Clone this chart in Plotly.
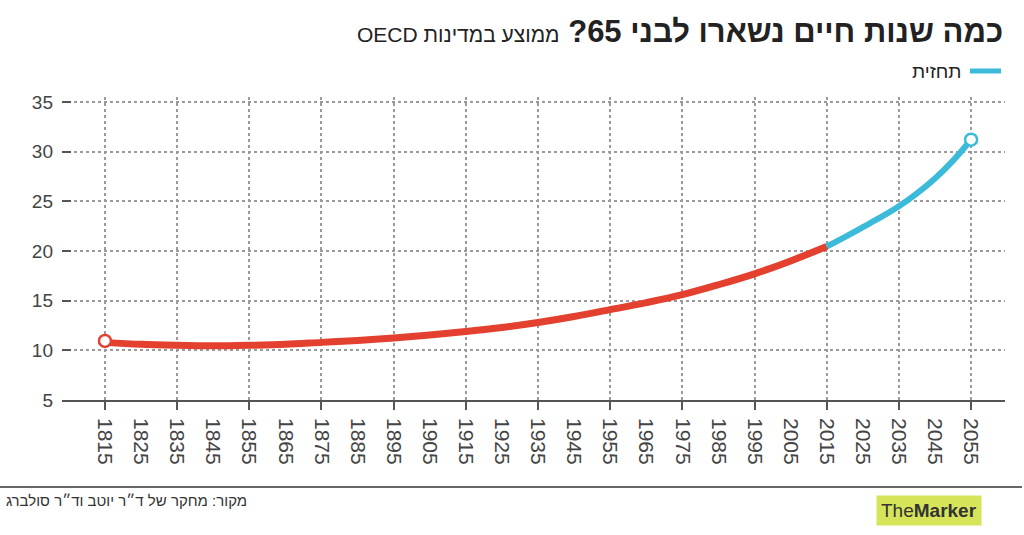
import plotly.graph_objects as go

# ---- data ----
hist_years = [1815, 1825, 1835, 1845, 1855, 1865, 1875, 1885, 1895, 1905, 1915,
              1925, 1935, 1945, 1955, 1965, 1975, 1985, 1995, 2005, 2015]
hist_values = [10.8, 10.6, 10.5, 10.45, 10.5, 10.6, 10.8, 11.0, 11.25, 11.55, 11.9,
               12.3, 12.8, 13.4, 14.1, 14.8, 15.6, 16.6, 17.7, 19.0, 20.45]
fc_years = [2015, 2020, 2025, 2030, 2035, 2040, 2045, 2050, 2055]
fc_values = [20.45, 21.4, 22.4, 23.4, 24.5, 25.8, 27.3, 29.1, 31.2]
start_point = (1815, 10.95)
label_years = list(range(1815, 2056, 10))
grid_years = list(range(1815, 2056, 20))
y_ticks = [5, 10, 15, 20, 25, 30, 35]

title_bold = "כמה שנות חיים נשארו לבני 65?"
title_rest = "ממוצע במדינות OECD"
legend_text = "תחזית"
source_text = "מקור: מחקר של ד״ר יוטב וד״ר סולברג"

RED = "#e3402f"
CYAN = "#3bbbd9"
GRID = "#9a9a9a"
DARK = "#444444"

W, H = 1024, 535
ml, mr, mt, mb = 62, 19, 97, 135
pw, ph = W - ml - mr, H - mt - mb


def px(xp):
    return (xp - ml) / pw


def py(yp):
    return (H - mb - yp) / ph


fig = go.Figure()
fig.add_trace(go.Scatter(x=hist_years, y=hist_values, mode="lines",
                         line=dict(color=RED, width=7, shape="spline"),
                         hoverinfo="skip", showlegend=False))
fig.add_trace(go.Scatter(x=fc_years, y=fc_values, mode="lines",
                         line=dict(color=CYAN, width=6, shape="spline"),
                         hoverinfo="skip", showlegend=False))
fig.add_trace(go.Scatter(x=[start_point[0]], y=[start_point[1]], mode="markers",
                         marker=dict(size=12, color="white", line=dict(color=RED, width=2.5)),
                         hoverinfo="skip", showlegend=False))
fig.add_trace(go.Scatter(x=fc_years[-1:], y=fc_values[-1:], mode="markers",
                         marker=dict(size=12, color="white", line=dict(color=CYAN, width=2.5)),
                         hoverinfo="skip", showlegend=False))
# helper trace for the label axis
fig.add_trace(go.Scatter(x=label_years, y=[None] * len(label_years), xaxis="x2",
                         mode="markers", hoverinfo="skip", showlegend=False))

xr = [1803.1, 2064.4]
fig.update_layout(
    width=W, height=H,
    margin=dict(l=ml, r=mr, t=mt, b=mb, pad=0),
    paper_bgcolor="white", plot_bgcolor="white",
    font=dict(family="Liberation Sans, Arial, sans-serif", color=DARK),
    xaxis=dict(range=xr, tickmode="array", tickvals=grid_years, showticklabels=False,
               ticks="outside", ticklen=8, tickwidth=2, tickcolor="#555",
               showgrid=True, gridcolor=GRID, griddash="dot", gridwidth=1.5,
               showline=True, linecolor="#555", linewidth=2, zeroline=False),
    xaxis2=dict(range=xr, overlaying="x", anchor="y", side="bottom",
                tickmode="array", tickvals=label_years,
                ticktext=[str(v) for v in label_years],
                tickangle=90, ticks="", showgrid=False, zeroline=False, showline=False,
                tickfont=dict(size=21, color=DARK), ticklabelstandoff=17),
    yaxis=dict(range=[5, 35.5], tickmode="array", tickvals=y_ticks,
               ticks="inside", ticklen=9, tickwidth=2, tickcolor="#555",
               showgrid=True, gridcolor=GRID, griddash="dot", gridwidth=1.5,
               showline=False, zeroline=False,
               tickfont=dict(size=19, color=DARK), ticklabelstandoff=8),
    shapes=[
        dict(type="line", xref="paper", yref="paper", x0=px(970), x1=px(1001),
             y0=py(71), y1=py(71), line=dict(color=CYAN, width=5)),
        dict(type="line", xref="paper", yref="paper", x0=px(0), x1=px(1022),
             y0=py(487), y1=py(487), line=dict(color="#666", width=2)),
    ],
    annotations=[
        dict(xref="paper", yref="paper", x=px(1005), y=py(32), xanchor="right",
             yanchor="middle", showarrow=False,
             text="<b>\u202b" + title_bold + "</b> <span style='font-size:21px'>"
                  + title_rest + "\u202c</span>",
             font=dict(size=31, color="#222")),
        dict(xref="paper", yref="paper", x=px(963), y=py(71), xanchor="right",
             yanchor="middle", showarrow=False, text=legend_text,
             font=dict(size=19, color="#222")),
        dict(xref="paper", yref="paper", x=px(4), y=py(500), xanchor="left",
             yanchor="middle", showarrow=False, text=source_text,
             font=dict(size=15, color="#333")),
        dict(xref="paper", yref="paper", x=px(929), y=py(510), xanchor="center",
             yanchor="middle", showarrow=False,
             text="The<b>Marker</b>", bgcolor="#d6e45a", borderpad=4,
             font=dict(size=19, color="#333")),
    ],
)

fig.write_html("out.html")
